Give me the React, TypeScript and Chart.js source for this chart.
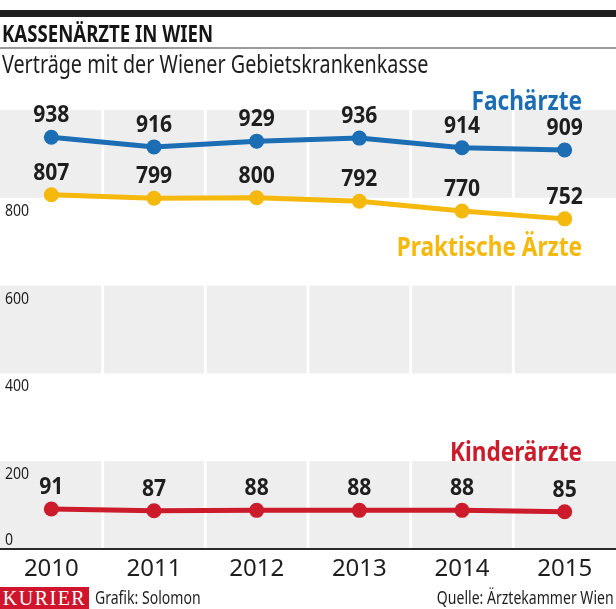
import React, { useEffect, useRef } from 'react';
import { Chart, registerables } from 'chart.js';

Chart.register(...registerables);

// ---- data ----
const years = ['2010', '2011', '2012', '2013', '2014', '2015'];
const fachaerzte = [938, 916, 929, 936, 914, 909];
const praktische = [807, 799, 800, 792, 770, 752];
const kinderaerzte = [91, 87, 88, 88, 88, 85];
const seriesNames = ['Fachärzte', 'Praktische Ärzte', 'Kinderärzte'];
const yTickValues = [0, 200, 400, 600, 800];
const yMin = 0;
const yMax = 1000;
const yStep = 200;

const titleText = 'KASSENÄRZTE IN WIEN';
const subtitleText = 'Verträge mit der Wiener Gebietskrankenkasse';
const creditText = 'Grafik: Solomon';
const sourceText = 'Quelle: Ärztekammer Wien';
const logoText = 'KURIER';

// ---- style ----
const FONT = '"Noto Sans", "Open Sans", sans-serif';
const BLUE = '#1b6db4';
const YELLOW = '#f5b80c';
const RED = '#cc1b2b';
const BAND = '#efeeee';
const INK = '#1e1e1e';
const seriesColors = [BLUE, YELLOW, RED];

function drawText(
  ctx: CanvasRenderingContext2D,
  text: string,
  x: number,
  y: number,
  font: string,
  color: string,
  align: 'left' | 'center' | 'right',
  sx: number
) {
  ctx.save();
  ctx.font = font;
  ctx.fillStyle = color;
  ctx.textBaseline = 'alphabetic';
  ctx.textAlign = 'left';
  const w = ctx.measureText(text).width * sx;
  const x0 = align === 'right' ? x - w : align === 'center' ? x - w / 2 : x;
  ctx.translate(x0, y);
  ctx.scale(sx, 1);
  ctx.fillText(text, 0, 0);
  ctx.restore();
}

const bandPlugin = {
  id: 'bands',
  beforeDraw(chart: any) {
    const { ctx, chartArea, scales } = chart;
    const xs = scales.x;
    const ys = scales.y;
    const n = years.length;
    const colW = (chartArea.right - chartArea.left) / n;
    const gap = 1.5;
    ctx.save();
    ctx.fillStyle = BAND;
    for (let v = yMin; v < yMax; v += yStep * 2) {
      const top = ys.getPixelForValue(v + yStep);
      const bot = ys.getPixelForValue(v);
      for (let i = 0; i < n; i++) {
        const c = xs.getPixelForValue(i);
        const l = i === 0 ? chartArea.left : c - colW / 2 + gap;
        const r = i === n - 1 ? chartArea.right : c + colW / 2 - gap;
        ctx.fillRect(l, top, r - l, bot - top);
      }
    }
    ctx.restore();
  },
};

// series name anchors: value on y-axis where the name's baseline sits
const nameBaselineValues = [1000, 668, 200];

const labelPlugin = {
  id: 'labels',
  afterDatasetsDraw(chart: any) {
    const { ctx, chartArea, scales } = chart;
    const ys = scales.y;
    // y tick labels
    yTickValues.forEach((v) => {
      const py = ys.getPixelForValue(v);
      const base = v === 0 ? py - 4 : py + 18;
      drawText(ctx, String(v), chartArea.left + 5, base, `16px ${FONT}`, INK, 'left', 0.88);
    });
    // value labels
    chart.data.datasets.forEach((ds: any, di: number) => {
      const meta = chart.getDatasetMeta(di);
      meta.data.forEach((pt: any, i: number) => {
        drawText(ctx, String(ds.data[i]), pt.x, pt.y - 15, `bold 24px ${FONT}`, INK, 'center', 0.88);
      });
    });
    // series names
    seriesNames.forEach((name, i) => {
      drawText(
        ctx,
        name,
        chartArea.right - 34,
        ys.getPixelForValue(nameBaselineValues[i]),
        `bold 26px ${FONT}`,
        seriesColors[i],
        'right',
        0.87
      );
    });
  },
};

export default function App() {
  const canvasRef = useRef<HTMLCanvasElement | null>(null);

  useEffect(() => {
    if (!canvasRef.current) return;
    const mk = (label: string, data: number[], color: string) => ({
      label,
      data,
      borderColor: color,
      backgroundColor: color,
      pointBackgroundColor: color,
      pointBorderColor: color,
      borderWidth: 5,
      pointRadius: 7.5,
      pointHoverRadius: 7.5,
      pointBorderWidth: 0,
      tension: 0,
      fill: false,
      clip: false as any,
    });
    const chart = new Chart(canvasRef.current, {
      type: 'line',
      data: {
        labels: years,
        datasets: [
          mk(seriesNames[0], fachaerzte, BLUE),
          mk(seriesNames[1], praktische, YELLOW),
          mk(seriesNames[2], kinderaerzte, RED),
        ],
      },
      options: {
        responsive: false,
        animation: false,
        devicePixelRatio: 1,
        layout: { autoPadding: false, padding: { top: 110, bottom: 19.2, left: 0, right: 0 } },
        plugins: { legend: { display: false }, tooltip: { enabled: false } },
        scales: {
          x: {
            type: 'category',
            offset: true,
            grid: { display: false, drawTicks: false },
            border: { display: true, color: '#2a2a2a', width: 2 },
            ticks: { color: INK, padding: 6, font: { family: FONT, size: 24 } },
          },
          y: {
            display: false,
            min: yMin,
            max: yMax,
            ticks: { stepSize: yStep },
          },
        },
      },
      plugins: [bandPlugin, labelPlugin],
    });
    return () => chart.destroy();
  }, []);

  const textBase: React.CSSProperties = {
    position: 'absolute',
    whiteSpace: 'nowrap',
    fontFamily: FONT,
    color: INK,
  };

  return (
    <div style={{ position: 'absolute', left: 0, top: 0, width: 616, height: 609, background: '#fff', overflow: 'hidden' }}>
      <canvas ref={canvasRef} width={616} height={609} style={{ position: 'absolute', left: 0, top: 0, display: 'block' }} />
      <div style={{ position: 'absolute', left: 0, top: 10, width: 616, height: 7, background: '#1f1f1f' }} />
      <div
        style={{
          ...textBase,
          left: 2,
          top: 21,
          fontSize: 24,
          lineHeight: '24px',
          fontWeight: 700,
          color: '#151515',
          transform: 'scaleX(0.775)',
          transformOrigin: 'left top',
        }}
      >
        {titleText}
      </div>
      <div style={{ position: 'absolute', left: 0, top: 47, width: 616, height: 2, background: '#9a9a9a' }} />
      <div
        style={{
          ...textBase,
          left: 2,
          top: 51,
          fontSize: 25,
          lineHeight: '25px',
          transform: 'scaleX(0.79)',
          transformOrigin: 'left top',
        }}
      >
        {subtitleText}
      </div>
      <div
        style={{
          position: 'absolute',
          left: 0,
          top: 587,
          width: 89,
          height: 22,
          background: '#cf142b',
          color: '#fff',
          fontFamily: '"Liberation Serif", "DejaVu Serif", serif',
          fontSize: 20,
          lineHeight: '22px',
          letterSpacing: 1.5,
          textAlign: 'center',
        }}
      >
        {logoText}
      </div>
      <div
        style={{
          ...textBase,
          left: 95,
          top: 588,
          fontSize: 18,
          lineHeight: '18px',
          transform: 'scaleX(0.78)',
          transformOrigin: 'left top',
        }}
      >
        {creditText}
      </div>
      <div
        style={{
          ...textBase,
          right: 2,
          top: 588,
          fontSize: 18,
          lineHeight: '18px',
          transform: 'scaleX(0.78)',
          transformOrigin: 'right top',
        }}
      >
        {sourceText}
      </div>
    </div>
  );
}
